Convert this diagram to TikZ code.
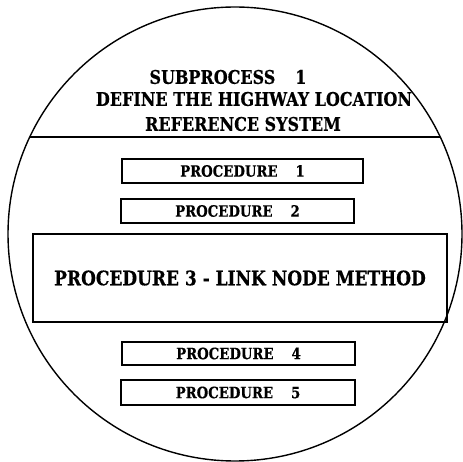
\documentclass[tikz,border=0pt]{standalone}
\usepackage{fontspec}
\setmainfont{DejaVu Serif}[FakeStretch=0.85, BoldFeatures={FakeBold=0.5}]
\usetikzlibrary{positioning}

\begin{document}
\begin{tikzpicture}[x=1pt, y=-1pt,
    procbox/.style={draw, line width=1.1pt, inner sep=0pt, minimum height=24pt,
      font=\bfseries\fontsize{15.6}{17}\selectfont},
    headline/.style={inner sep=0pt, font=\bfseries\fontsize{18.8}{20}\selectfont}]
    \path[use as bounding box] (0, 0) rectangle (463, 462);

    \draw[line width=1.4pt] (235, 234) circle (227);
    \coordinate (chordL) at (30, 137);
    \coordinate (chordR) at (440, 137);
    \draw[line width=1.1pt] (chordL) -- (chordR);

    \node[headline] (sub) at (228, 77)  {SUBPROCESS\hspace{20pt}1};
    \node[headline] (def) at (254, 99)  {DEFINE THE HIGHWAY LOCATION};
    \node[headline] (ref) at (243, 124) {REFERENCE SYSTEM};

    \node[procbox, minimum width=241pt] (proc1) at (242.5, 171) {PROCEDURE\hspace{18pt}1};
    \node[procbox, minimum width=233pt] (proc2) at (237.5, 211) {PROCEDURE\hspace{18pt}2};
    \node[procbox, minimum width=414pt, minimum height=88pt,
      font=\bfseries\fontsize{20}{22}\selectfont] (proc3) at (240, 278)
      {PROCEDURE 3 - LINK NODE METHOD};
    \node[procbox, minimum width=233pt, minimum height=23pt] (proc4) at (238.5, 353.5) {PROCEDURE\hspace{18pt}4};
    \node[procbox, minimum width=234pt, minimum height=25pt] (proc5) at (238, 392.5) {PROCEDURE\hspace{18pt}5};
\end{tikzpicture}
\end{document}
